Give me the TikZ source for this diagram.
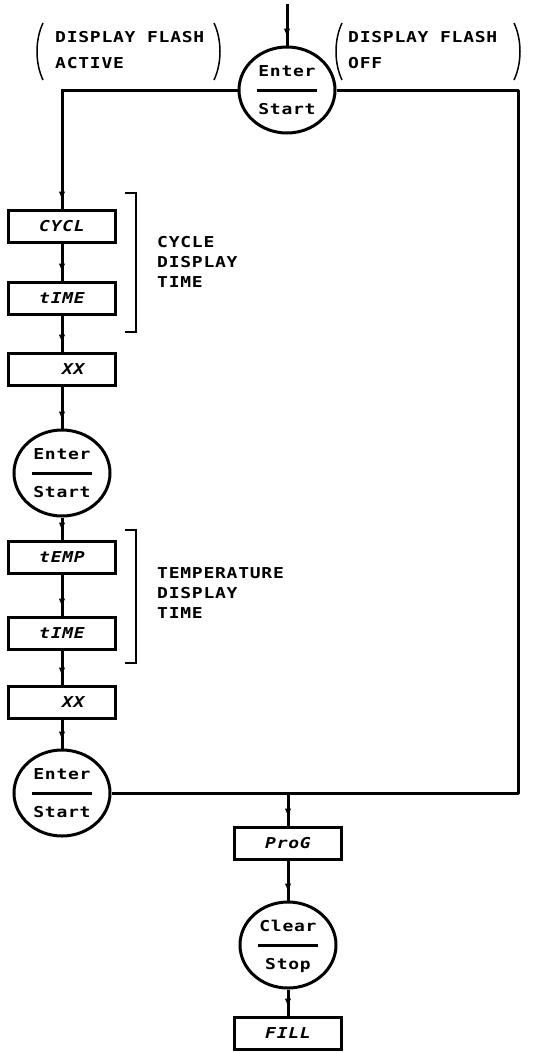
\documentclass[tikz,border=0pt]{standalone}
\usepackage{fontspec}
\newfontfamily\plot[FakeStretch=1.2,LetterSpace=5]{DejaVu Sans Mono}
\usetikzlibrary{shapes.geometric,arrows.meta,decorations.markings}
\tikzset{
  box/.style={draw, line width=3pt, minimum width=107pt, minimum height=32pt, inner sep=0pt,
    font=\plot\fontsize{15}{17}\selectfont\bfseries\itshape, text height=10.5pt, text depth=0pt},
  key/.style={draw, ellipse, line width=3pt, minimum width=96pt, minimum height=86pt, inner sep=0pt},
  keytxt/.style={inner sep=0pt, font=\plot\fontsize{15}{17}\selectfont\bfseries, text height=10.5pt, text depth=0pt},
  bar/.style={line width=3pt},
  lbl/.style={inner sep=0pt, align=left, anchor=west},
  flow/.style={line width=3pt, postaction=decorate,
    decoration={markings, mark=at position -8pt with {\arrow{Latex[length=9pt,width=6.5pt]}}}},
  wire/.style={line width=3pt, line join=round},
  brk/.style={line width=1.5pt},
  paren/.style={line width=1.5pt},
}
\newcommand\keynode[4]{%
  \node[key] (#1) at (#2) {};
  \node[keytxt] (#1t) at ([yshift=19pt]#1.center) {#3};
  \node[keytxt] (#1b) at ([yshift=-19pt]#1.center) {#4};
  \draw[bar] ([xshift=-30pt]#1.center) -- ([xshift=30pt]#1.center);
}
\begin{document}
\begin{tikzpicture}[x=1pt,y=-1pt]
\useasboundingbox (0,0) rectangle (535,1053);

% top key
\coordinate (in) at (287,4);
\keynode{k0}{287,90}{Enter}{Start}

% left column
\node[box] (b1) at (62,226) {CYCL};
\node[box] (b2) at (62,298) {tIME};
\node[box] (b3) at (62,369) {\phantom{XX}XX};
\keynode{k1}{62,473}{Enter}{Start}
\node[box] (b4) at (62,557) {tEMP};
\node[box] (b5) at (62,633) {tIME};
\node[box] (b6) at (62,702) {\phantom{XX}XX};
\keynode{k2}{62,793}{Enter}{Start}

% right column bottom
\node[box] (b7) at (288,843) {ProG};
\keynode{k3}{288,945}{Clear}{Stop}
\node[box] (b8) at (288,1033) {FILL};

\coordinate (R1) at (518,90);
\coordinate (R2) at (518,793);
\coordinate (J) at (b7 |- k2.east);

% connectors
\draw[flow] (in) -- (k0.north);
\draw[flow] (k0.west) -| (b1.north);
\draw[flow] (b1) -- (b2);
\draw[flow] (b2) -- (b3);
\draw[flow] (b3) -- (k1);
\draw[flow] (k1) -- (b4);
\draw[flow] (b4) -- (b5);
\draw[flow] (b5) -- (b6);
\draw[flow] (b6) -- (k2);
\draw[wire] (k0.east) -- (R1) -- (R2) -- (k2.east);
\draw[flow] (J) -- (b7);
\draw[flow] (b7) -- (k3);
\draw[flow] (k3) -- (b8);

% brackets
\draw[brk] (125,193) -- (136,193) -- (136,332) -- (125,332);
\draw[brk] (125,530) -- (136,530) -- (136,663) -- (125,663);

% bracket labels
\node[lbl, font=\plot\fontsize{15}{20}\selectfont\bfseries] (t1) at (157,262) {CYCLE\\DISPLAY\\TIME};
\node[lbl, font=\plot\fontsize{15}{20}\selectfont\bfseries] (t2) at (157,593) {TEMPERATURE\\DISPLAY\\TIME};

% top notes
\node[lbl, font=\plot\fontsize{15}{26}\selectfont\bfseries] (n1) at (55,50) {DISPLAY FLASH\\ACTIVE};
\node[lbl, font=\plot\fontsize{15}{26}\selectfont\bfseries] (n2) at (348,50) {DISPLAY FLASH\\OFF};
\draw[paren] (43,23) .. controls (35,40) and (35,63) .. (43,80);
\draw[paren] (214,23) .. controls (222,40) and (222,63) .. (214,80);
\draw[paren] (342,23) .. controls (334,40) and (334,63) .. (342,80);
\draw[paren] (514,23) .. controls (522,40) and (522,63) .. (514,80);
\end{tikzpicture}
\end{document}
